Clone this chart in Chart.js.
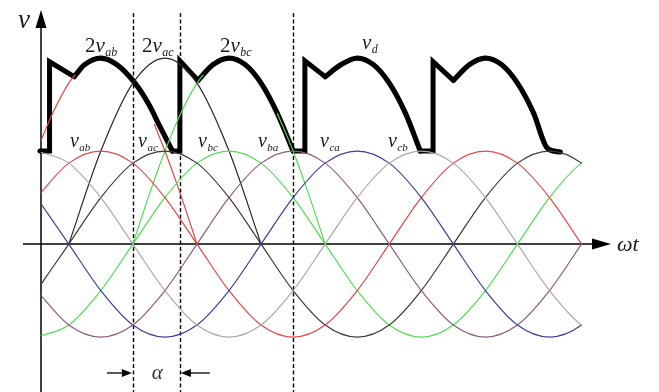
<!DOCTYPE html>
<html>
<head>
<meta charset="utf-8">
<script src="https://cdn.jsdelivr.net/npm/chart.js@4/dist/chart.umd.min.js"></script>
<style>
  html, body { margin: 0; padding: 0; background: #fff; }
  #wrap { width: 659px; height: 392px; position: relative; }
</style>
</head>
<body>
<div id="wrap"><canvas id="wave"></canvas></div>
<script>
// ωt in degrees, voltages in units of the line-voltage peak
const angles = [0, 30, 60, 90, 120, 150, 180, 210, 240, 270, 300, 330, 360, 390, 420, 450, 480, 510, 540];

// line voltages
const vab = [0.5, 0.87, 1, 0.87, 0.5, 0, -0.5, -0.87, -1, -0.87, -0.5, 0, 0.5, 0.87, 1, 0.87, 0.5, 0, -0.5];
const vac = [-0.5, 0, 0.5, 0.87, 1, 0.87, 0.5, 0, -0.5, -0.87, -1, -0.87, -0.5, 0, 0.5, 0.87, 1, 0.87, 0.5];
const vbc = [-1, -0.87, -0.5, 0, 0.5, 0.87, 1, 0.87, 0.5, 0, -0.5, -0.87, -1, -0.87, -0.5, 0, 0.5, 0.87, 1];
const vba = [-0.5, -0.87, -1, -0.87, -0.5, 0, 0.5, 0.87, 1, 0.87, 0.5, 0, -0.5, -0.87, -1, -0.87, -0.5, 0, 0.5];
const vca = [0.5, 0, -0.5, -0.87, -1, -0.87, -0.5, 0, 0.5, 0.87, 1, 0.87, 0.5, 0, -0.5, -0.87, -1, -0.87, -0.5];
const vcb = [1, 0.87, 0.5, 0, -0.5, -0.87, -1, -0.87, -0.5, 0, 0.5, 0.87, 1, 0.87, 0.5, 0, -0.5, -0.87, -1];

// doubled line voltages [ωt, v]; only the parts not hidden under v_d
const twoVabParts = [
  [[0, 1], [15, 1.41], [30, 1.73], [36, 1.82]],
  [[110, 1.29], [120, 1], [135, 0.52], [150, 0]]
];
const twoVacParts = [
  [[30, 0], [60, 1], [90, 1.73], [120, 2], [150, 1.73], [180, 1], [210, 0]]
];
const twoVbcParts = [
  [[90, 0], [105, 0.52], [120, 1], [135, 1.41], [150, 1.73], [156, 1.82]],
  [[225, 1.41], [240, 1], [255, 0.52], [270, 0]]
];

// output voltage v_d: commutation steps [ωt, v] and the arcs between them
const vdSteps = [
  [[3, 1], [12, 1], [12, 1.96], [35, 1.8]],
  [[127, 1], [134, 1], [134, 1.97], [151, 1.76]],
  [[240, 1], [251, 1], [251, 1.97], [270, 1.8]],
  [[359, 1], [371, 1], [371, 1.96], [390, 1.76]]
];
const vdArcs = [
  [[35, 1.8], [45, 1.93], [60, 2], [75, 1.93], [92, 1.73], [105, 1.5], [115, 1.27], [127, 1]],
  [[151, 1.76], [165, 1.93], [180, 2], [195, 1.93], [210, 1.73], [225, 1.41], [240, 1]],
  [[270, 1.8], [285, 1.93], [300, 2], [315, 1.93], [330, 1.73], [345, 1.41], [359, 1]],
  [[390, 1.76], [405, 1.93], [420, 2], [435, 1.93], [450, 1.73], [465, 1.41], [478, 1.03], [490, 0.99]]
];

// vertical dashed markers (ωt) and the firing-delay span
const markerAngles = [90, 134, 240];
const alphaSpan = [90, 134];

const toPoints = (xs, ys) => xs.map((x, i) => ({ x: x, y: ys[i] }));
const pairPoints = (arr) => arr.map(p => ({ x: p[0], y: p[1] }));

const thin = (data, color) => ({
  data: data, borderColor: color, borderWidth: 1.2,
  cubicInterpolationMode: 'monotone', pointRadius: 0, fill: false
});

const datasets = [
  thin(toPoints(angles, vcb), '#a9a9a9'),
  thin(toPoints(angles, vba), '#8a5c7c'),
  thin(toPoints(angles, vca), '#3d3d98'),
  thin(toPoints(angles, vab), '#e04848'),
  thin(toPoints(angles, vac), '#3a3a3a'),
  thin(toPoints(angles, vbc), '#52dc52')
];
twoVabParts.forEach(p => datasets.push(thin(pairPoints(p), '#e04848')));
twoVacParts.forEach(p => datasets.push(thin(pairPoints(p), '#2a2a2a')));
twoVbcParts.forEach(p => datasets.push(thin(pairPoints(p), '#52dc52')));

vdSteps.forEach(seg => datasets.push({
  data: pairPoints(seg), borderColor: '#000', borderWidth: 5, tension: 0,
  borderCapStyle: 'round', borderJoinStyle: 'miter', pointRadius: 0, fill: false, clip: false
}));
vdArcs.forEach(seg => datasets.push({
  data: pairPoints(seg), borderColor: '#000', borderWidth: 5.2,
  cubicInterpolationMode: 'monotone', borderCapStyle: 'round', borderJoinStyle: 'round',
  pointRadius: 0, fill: false, clip: false
}));

// label placements in chart coordinates (ωt, v)
const labels = [
  { pre: '2', main: 'v', sub: 'ab', x: 45.2, y: 2.06, size: 21 },
  { pre: '2', main: 'v', sub: 'ac', x: 98.5, y: 2.06, size: 21 },
  { pre: '2', main: 'v', sub: 'bc', x: 171.6, y: 2.06, size: 21 },
  { pre: '', main: 'v', sub: 'd', x: 304.5, y: 2.1, size: 21 },
  { pre: '', main: 'v', sub: 'ab', x: 31.1, y: 1.04, size: 20 },
  { pre: '', main: 'v', sub: 'ac', x: 94.8, y: 1.04, size: 20 },
  { pre: '', main: 'v', sub: 'bc', x: 151, y: 1.04, size: 20 },
  { pre: '', main: 'v', sub: 'ba', x: 207.1, y: 1.04, size: 20 },
  { pre: '', main: 'v', sub: 'ca', x: 265.2, y: 1.04, size: 20 },
  { pre: '', main: 'v', sub: 'cb', x: 328.8, y: 1.04, size: 20 }
];

const SERIF = '"Liberation Serif", "Times New Roman", serif';

function arrowHead(ctx, tipX, tipY, dir, len, half) {
  ctx.beginPath();
  if (dir === 'right') { ctx.moveTo(tipX, tipY); ctx.lineTo(tipX - len, tipY - half); ctx.lineTo(tipX - len, tipY + half); }
  if (dir === 'left')  { ctx.moveTo(tipX, tipY); ctx.lineTo(tipX + len, tipY - half); ctx.lineTo(tipX + len, tipY + half); }
  if (dir === 'up')    { ctx.moveTo(tipX, tipY); ctx.lineTo(tipX - half, tipY + len); ctx.lineTo(tipX + half, tipY + len); }
  ctx.closePath();
  ctx.fill();
}

const axesPlugin = {
  id: 'waveAxes',
  beforeDatasetsDraw(chart) {
    const { ctx, chartArea, scales: { x, y } } = chart;
    const y0 = y.getPixelForValue(0);
    const yAxisX = chartArea.left;
    ctx.save();
    ctx.strokeStyle = '#000';
    ctx.fillStyle = '#000';
    ctx.lineWidth = 1.5;
    // horizontal axis
    ctx.beginPath(); ctx.moveTo(23, y0); ctx.lineTo(594, y0); ctx.stroke();
    arrowHead(ctx, 611, y0, 'right', 19, 5.5);
    // vertical axis
    ctx.beginPath(); ctx.moveTo(yAxisX, 392); ctx.lineTo(yAxisX, 26); ctx.stroke();
    arrowHead(ctx, yAxisX, 10, 'up', 18, 5.5);
    // dashed markers
    ctx.lineWidth = 1.4;
    ctx.setLineDash([4, 2.5]);
    markerAngles.forEach(a => {
      const px = Math.round(x.getPixelForValue(a)) + 0.5;
      ctx.beginPath(); ctx.moveTo(px, 13); ctx.lineTo(px, 392); ctx.stroke();
    });
    ctx.setLineDash([]);
    ctx.restore();
  },
  afterDatasetsDraw(chart) {
    const { ctx, chartArea, scales: { x, y } } = chart;
    const y0 = y.getPixelForValue(0);
    ctx.save();
    ctx.fillStyle = '#1a1a1a';
    ctx.strokeStyle = '#000';
    ctx.textBaseline = 'alphabetic';
    ctx.textAlign = 'left';

    // axis names
    ctx.font = 'italic 27px ' + SERIF;
    ctx.fillText('v', chartArea.left - 23, 28);
    ctx.font = 'italic 22px ' + SERIF;
    ctx.fillText('ωt', 617, y0 + 7);

    // curve names
    labels.forEach(l => {
      let px = x.getPixelForValue(l.x);
      const py = y.getPixelForValue(l.y);
      if (l.pre) {
        ctx.font = l.size + 'px ' + SERIF;
        ctx.fillText(l.pre, px, py);
        px += ctx.measureText(l.pre).width;
      }
      ctx.font = 'italic ' + l.size + 'px ' + SERIF;
      ctx.fillText(l.main, px, py);
      px += ctx.measureText(l.main).width + 0.5;
      ctx.font = 'italic ' + Math.round(l.size * 0.55) + 'px ' + SERIF;
      ctx.fillText(l.sub, px, py + l.size * 0.18);
    });

    // firing delay α
    const ax1 = x.getPixelForValue(alphaSpan[0]);
    const ax2 = x.getPixelForValue(alphaSpan[1]);
    const ay = 373;
    ctx.fillStyle = '#000';
    ctx.lineWidth = 1.3;
    ctx.beginPath(); ctx.moveTo(ax1 - 26, ay); ctx.lineTo(ax1 - 9, ay); ctx.stroke();
    arrowHead(ctx, ax1 - 1, ay, 'right', 10, 4);
    ctx.beginPath(); ctx.moveTo(ax2 + 9, ay); ctx.lineTo(ax2 + 30, ay); ctx.stroke();
    arrowHead(ctx, ax2 + 1, ay, 'left', 10, 4);
    ctx.fillStyle = '#333';
    ctx.font = 'italic 21px ' + SERIF;
    ctx.textAlign = 'center';
    ctx.fillText('α', (ax1 + ax2) / 2 + 1, ay + 6);
    ctx.restore();
  }
};

new Chart(document.getElementById('wave'), {
  type: 'line',
  data: { datasets: datasets },
  options: {
    responsive: true,
    maintainAspectRatio: false,
    animation: false,
    events: [],
    layout: { padding: { left: 41, right: 77, top: 0, bottom: 0 } },
    plugins: { legend: { display: false }, tooltip: { enabled: false } },
    scales: {
      x: { type: 'linear', min: 4, max: 510.4, display: false },
      y: { type: 'linear', min: -1.591, max: 2.624, display: false }
    }
  },
  plugins: [axesPlugin]
});
</script>
</body>
</html>
